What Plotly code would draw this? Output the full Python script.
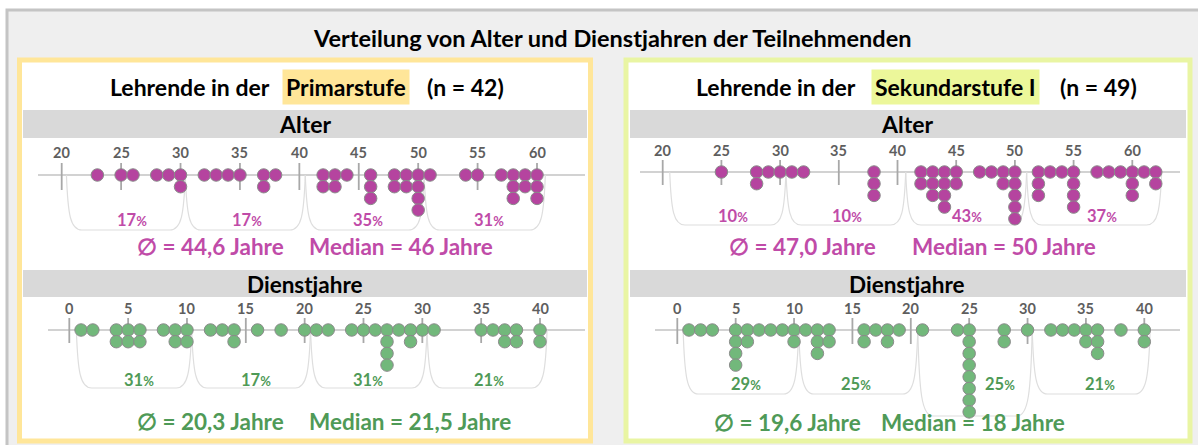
import plotly.graph_objects as go
from collections import Counter

W, H = 1198, 445

# ---------------- data ----------------
title_text = "Verteilung von Alter und Dienstjahren der Teilnehmenden"

prim_n = 42
sek_n = 49

prim_alter = [23, 25, 26, 28, 29, 30, 30,
              32, 33, 34, 35, 37, 37, 38,
              42, 42, 43, 43, 44, 46, 46, 46, 48, 48, 49, 49, 50, 50, 50, 50,
              51, 54, 55, 57, 58, 58, 58, 59, 59, 60, 60, 60]
sek_alter = [25, 28, 28, 29, 30,
             31, 32, 38, 38, 38,
             42, 42, 43, 43, 43, 44, 44, 44, 44, 45, 45, 47, 48, 49, 49, 50, 50, 50, 50, 50,
             52, 52, 52, 53, 54, 55, 55, 55, 55, 57, 58, 59, 60, 60, 60, 61, 62, 62]
prim_dienst = [1, 2, 4, 4, 5, 5, 6, 6, 8, 9, 9, 10, 10,
               12, 13, 14, 14, 16, 18, 20,
               21, 22, 24, 25, 26, 27, 27, 27, 27, 28, 29, 29, 30,
               31, 35, 36, 37, 37, 38, 38, 40, 40]
sek_dienst = [1, 2, 3, 5, 5, 5, 5, 6, 6, 7, 8, 9, 10, 10,
              11, 12, 12, 12, 13, 13, 16, 16, 17, 18, 18, 19,
              21, 24, 25, 25, 25, 25, 25, 25, 25, 25, 28, 28, 30,
              32, 33, 34, 35, 35, 36, 36, 36, 38, 40, 40]

alter_ticks = [20, 25, 30, 35, 40, 45, 50, 55, 60]
dienst_ticks = [0, 5, 10, 15, 20, 25, 30, 35, 40]

prim_alter_pct = [17, 17, 35, 31]
sek_alter_pct = [10, 10, 43, 37]
prim_dienst_pct = [31, 17, 31, 21]
sek_dienst_pct = [29, 25, 25, 21]

prim_alter_mean, prim_alter_median = "44,6", "46"
sek_alter_mean, sek_alter_median = "47,0", "50"
prim_dienst_mean, prim_dienst_median = "20,3", "21,5"
sek_dienst_mean, sek_dienst_median = "19,6", "18"

# ---------------- styles ----------------
FONT = "Lato"
MAG_DOT = "#b5449f"
MAG_TXT = "#c04ba8"
GRN_DOT = "#72b87b"
GRN_TXT = "#4f9a57"
YELLOW = "#ffe699"
LIME = "#ecf79a"
LIME_BORDER = "#e9f5a3"
BAR_GRAY = "#d9d9d9"
S = 11.7  # vertical px per stacked dot


def px_x(x):
    return x / W


def px_y(y):
    return 1 - y / H


panels = [
    dict(data=prim_alter, ticks=alter_ticks, pct=prim_alter_pct, dot=MAG_DOT, txt=MAG_TXT,
         dom=(38, 585), cal=((20, 61.7), (60, 537.0)), T=138, B=262, L=175,
         lab=152, tick=(163, 190), pct_y=220, pct_x=[25.9, 35.6, 45.8, 56.0],
         bounds=[20.4, 30.4, 40.5, 50.5, 60.7], depth=[230, 230, 230, 230]),
    dict(data=sek_alter, ticks=alter_ticks, pct=sek_alter_pct, dot=MAG_DOT, txt=MAG_TXT,
         dom=(640, 1180), cal=((20, 662.7), (60, 1132.3)), T=135, B=259, L=172,
         lab=150, tick=(160, 185), pct_y=216, pct_x=[26.0, 35.7, 45.9, 57.4],
         bounds=[20.6, 30.5, 40.7, 51.0, 62.5], depth=[225, 225, 225, 225]),
    dict(data=prim_dienst, ticks=dienst_ticks, pct=prim_dienst_pct, dot=GRN_DOT, txt=GRN_TXT,
         dom=(48, 585), cal=((0, 69.3), (40, 540.0)), T=296, B=420, L=330,
         lab=308, tick=(318, 343), pct_y=380, pct_x=[5.9, 15.9, 25.4, 35.7],
         bounds=[0.6, 10.4, 20.5, 30.4, 40.6], depth=[388, 388, 388, 388]),
    dict(data=sek_dienst, ticks=dienst_ticks, pct=sek_dienst_pct, dot=GRN_DOT, txt=GRN_TXT,
         dom=(655, 1180), cal=((0, 677.3), (40, 1144.3)), T=296, B=422, L=330,
         lab=308, tick=(318, 344), pct_y=384, pct_x=[5.9, 15.3, 27.6, 36.2],
         bounds=[0.5, 10.4, 20.6, 30.4, 40.5], depth=[394, 394, 416, 394]),
]

fig = go.Figure()
shapes = []
annotations = []

# ---------- background / frames (paper) ----------
shapes.append(dict(type="rect", xref="paper", yref="paper", x0=px_x(7), x1=px_x(1205),
                   y0=px_y(10), y1=px_y(452), fillcolor="#efefef",
                   line=dict(color="#c4c4c4", width=3), layer="below"))
shapes.append(dict(type="rect", xref="paper", yref="paper", x0=px_x(19.5), x1=px_x(590.5),
                   y0=px_y(60), y1=px_y(441), fillcolor="white",
                   line=dict(color=YELLOW, width=5), layer="below"))
shapes.append(dict(type="rect", xref="paper", yref="paper", x0=px_x(626), x1=px_x(1190),
                   y0=px_y(60), y1=px_y(441), fillcolor="white",
                   line=dict(color=LIME_BORDER, width=5), layer="below"))
for (bx0, bx1) in [(23, 587), (630, 1186)]:
    for (by0, by1) in [(110, 138), (270, 297)]:
        shapes.append(dict(type="rect", xref="paper", yref="paper", x0=px_x(bx0), x1=px_x(bx1),
                           y0=px_y(by0), y1=px_y(by1), fillcolor=BAR_GRAY,
                           line=dict(width=0), layer="below"))


def ann(text, x, y, size, color="black", xanchor="center", bg=None, pad=0, weight="bold"):
    d = dict(text=text, x=px_x(x), y=px_y(y), xref="paper", yref="paper", showarrow=False,
             xanchor=xanchor, yanchor="middle",
             font=dict(family=FONT, size=size, color=color, weight=weight))
    if bg:
        d.update(bgcolor=bg, borderpad=pad)
    annotations.append(d)


HDR = 23
ann(title_text, 612, 38, 23.5)
ann("Lehrende in der", 272, 87, HDR, xanchor="right")
ann("Primarstufe", 345.5, 87, HDR, bg=YELLOW, pad=3)
ann(f"(n = {prim_n})", 425, 87, HDR, xanchor="left")
ann("Lehrende in der", 858, 87, HDR, xanchor="right")
ann("Sekundarstufe I", 955.5, 87, HDR, bg=LIME, pad=3)
ann(f"(n = {sek_n})", 1058, 87, HDR, xanchor="left")
for cx in (305, 907):
    ann("Alter", cx, 124, 23)
    ann("Dienstjahre", cx, 284, 22.5)

ST = 22.5
ann(f"∅ = {prim_alter_mean} Jahre", 210, 246, ST, MAG_TXT)
ann(f"Median = {prim_alter_median} Jahre", 401, 246, ST, MAG_TXT)
ann(f"∅ = {sek_alter_mean} Jahre", 802.5, 246, ST, MAG_TXT)
ann(f"Median = {sek_alter_median} Jahre", 1003.5, 246, ST, MAG_TXT)
ann(f"∅ = {prim_dienst_mean} Jahre", 210.5, 421, ST, GRN_TXT)
ann(f"Median = {prim_dienst_median} Jahre", 410, 421, ST, GRN_TXT)
ann(f"∅ = {sek_dienst_mean} Jahre", 787.5, 422, ST, GRN_TXT)
ann(f"Median = {sek_dienst_median} Jahre", 972.5, 422, ST, GRN_TXT)

# ---------- dot plots ----------
layout_axes = {}
for i, p in enumerate(panels, start=1):
    sfx = "" if i == 1 else str(i)
    xr, yr = f"x{sfx}", f"y{sfx}"
    (va, pa), (vb, pb) = p["cal"]
    scale = (pb - pa) / (vb - va)
    x_lo = va - (pa - p["dom"][0]) / scale
    x_hi = va + (p["dom"][1] - pa) / scale
    L, T, B = p["L"], p["T"], p["B"]
    y_lo = -(B - L) / S
    y_hi = (L - T) / S
    layout_axes[f"xaxis{sfx}"] = dict(domain=[px_x(p["dom"][0]), px_x(p["dom"][1])],
                                      range=[x_lo, x_hi], visible=False, anchor=yr,
                                      fixedrange=True)
    layout_axes[f"yaxis{sfx}"] = dict(domain=[px_y(B), px_y(T)], range=[y_lo, y_hi],
                                      visible=False, anchor=xr, fixedrange=True)

    # axis line
    shapes.append(dict(type="line", xref=xr, yref=yr, x0=x_lo, x1=x_hi, y0=0, y1=0,
                       line=dict(color="#c3c3c3", width=1.5), layer="below"))
    # ticks + labels
    t_up = (L - p["tick"][0]) / S
    t_dn = -(p["tick"][1] - L) / S
    lab_y = (L - p["lab"]) / S
    for t in p["ticks"]:
        shapes.append(dict(type="line", xref=xr, yref=yr, x0=t, x1=t, y0=t_dn, y1=t_up,
                           line=dict(color="#a8a8a8", width=1.8), layer="below"))
        annotations.append(dict(text=str(t), x=t, y=lab_y, xref=xr, yref=yr, showarrow=False,
                                font=dict(family=FONT, size=14.5, color="#5e5e5e", weight="bold")))
    # brackets
    bnd = p["bounds"]
    r = 1.3
    for g in range(4):
        a, b = bnd[g], bnd[g + 1]
        d = (p["depth"][g] - L) / S
        path = (f"M {a},0 C {a + 0.12},{-0.72 * d} {a + 0.25 * r},{-d} {a + r},{-d} "
                f"L {b - r},{-d} C {b - 0.25 * r},{-d} {b - 0.12},{-0.72 * d} {b},0")
        shapes.append(dict(type="path", xref=xr, yref=yr, path=path,
                           line=dict(color="#dedede", width=1.2), layer="below"))
        pv = p["pct"][g]
        annotations.append(dict(
            text=f"{pv}<span style='font-size:13px'>%</span>", x=p["pct_x"][g],
            y=-(p["pct_y"] - L) / S, xref=xr, yref=yr, showarrow=False,
            font=dict(family=FONT, size=16.5, color=p["txt"], weight="bold")))

    # stacked dots
    cnt = Counter()
    xs, ys = [], []
    for v in p["data"]:
        xs.append(v)
        ys.append(-cnt[v])
        cnt[v] += 1
    fig.add_trace(go.Scatter(x=xs, y=ys, xaxis=xr, yaxis=yr, mode="markers",
                             marker=dict(size=12.5, color=p["dot"],
                                         line=dict(color="#8a8a8a", width=1)),
                             cliponaxis=False, hoverinfo="x", showlegend=False))

fig.update_layout(width=W, height=H, margin=dict(l=0, r=0, t=0, b=0),
                  paper_bgcolor="white", plot_bgcolor="rgba(0,0,0,0)",
                  shapes=shapes, annotations=annotations, showlegend=False,
                  **layout_axes)

fig.write_html("out.html", config={"displayModeBar": False},
               post_script="document.body.style.margin='0px';document.body.style.overflow='hidden';")
